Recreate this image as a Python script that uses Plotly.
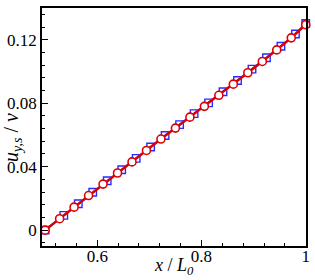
import plotly.graph_objects as go

# Data
x_red = [0.5, 0.5278, 0.5556, 0.5833, 0.6111, 0.6389, 0.6667, 0.6944, 0.7222, 0.75,
         0.7778, 0.8056, 0.8333, 0.8611, 0.8889, 0.9167, 0.9444, 0.9722, 1.0]
y_red = [0.0, 0.0072, 0.0145, 0.0218, 0.0290, 0.0360, 0.0430, 0.0502, 0.0574, 0.0643,
         0.0712, 0.0780, 0.0850, 0.0920, 0.0992, 0.1063, 0.1136, 0.1212, 0.1295]

x_blue = [0.5, 0.5358, 0.5636, 0.5913, 0.6191, 0.6469, 0.6747, 0.7024, 0.7302, 0.758,
          0.7858, 0.8136, 0.8413, 0.8691, 0.8969, 0.9247, 0.9524, 0.9802, 1.0]
y_blue = [0.0, 0.0093, 0.0166, 0.0239, 0.0311, 0.0381, 0.0452, 0.0524, 0.0596, 0.0665,
          0.0734, 0.0802, 0.0872, 0.0943, 0.1015, 0.1086, 0.1159, 0.1236, 0.1302]

x_ticks = [0.6, 0.8, 1.0]
x_ticklabels = ["0.6", "0.8", "1"]
y_ticks = [0, 0.04, 0.08, 0.12]
y_ticklabels = ["0", "0.04", "0.08", "0.12"]

SERIF = "Liberation Serif, Times New Roman, serif"

fig = go.Figure()
fig.add_trace(go.Scatter(
    x=x_blue, y=y_blue, mode="lines+markers", cliponaxis=False,
    line=dict(color="#2a2aff", width=2),
    marker=dict(symbol="square-open", size=7.5, color="#2a2aff", line=dict(width=1.4)),
    showlegend=False))
fig.add_trace(go.Scatter(
    x=x_red, y=y_red, mode="lines+markers", cliponaxis=False,
    line=dict(color="#dd0000", width=2.4),
    marker=dict(symbol="circle", size=8, color="white", line=dict(color="#dd0000", width=1.6)),
    showlegend=False))

fig.update_layout(
    template="none",
    width=315, height=280,
    margin=dict(l=42, r=9, t=8, b=34, autoexpand=False),
    paper_bgcolor="white", plot_bgcolor="white",
    font=dict(family=SERIF, size=17, color="black"),
    annotations=[
        dict(text="<i>x</i> / <i>L<sub>0</sub></i>", xref="paper", yref="paper",
             x=0.5, y=0, yshift=-20, xanchor="center", yanchor="middle", showarrow=False,
             font=dict(family=SERIF, size=18, color="black")),
        dict(text="<i>u<sub>y,s</sub></i> / <i>v</i>", xref="paper", yref="paper",
             x=0, xshift=-30, y=0.5, yshift=-11, xanchor="center", yanchor="middle",
             textangle=-90, showarrow=False,
             font=dict(family=SERIF, size=20, color="black")),
    ],
)
fig.update_xaxes(
    automargin=False,
    range=[0.494, 1.0005], tickvals=x_ticks, ticktext=x_ticklabels,
    ticks="inside", ticklen=6, tickwidth=1.2, tickcolor="black",
    ticklabelstandoff=-6,
    minor=dict(tickvals=[0.52, 0.56, 0.64, 0.68, 0.72, 0.76, 0.84, 0.88, 0.92, 0.96],
               ticks="inside", ticklen=3, tickcolor="black", tickwidth=1),
    showline=True, linecolor="black", linewidth=1.5, mirror=True,
    showgrid=False, zeroline=False, tickfont=dict(family=SERIF, size=17),
)
fig.update_yaxes(
    automargin=False,
    range=[-0.01, 0.14], tickvals=y_ticks, ticktext=y_ticklabels,
    ticks="inside", ticklen=6, tickwidth=1.2, tickcolor="black",
    minor=dict(tickvals=[-0.008, 0.008, 0.016, 0.024, 0.032, 0.048, 0.056, 0.064, 0.072,
                         0.088, 0.096, 0.104, 0.112, 0.128, 0.136],
               ticks="inside", ticklen=3, tickcolor="black", tickwidth=1),
    showline=True, linecolor="black", linewidth=1.5, mirror=True,
    showgrid=False, zeroline=False, tickfont=dict(family=SERIF, size=17),
)
fig.write_html("out.html", config={"displayModeBar": False},
               post_script="document.body.style.margin='0';document.body.style.padding='0';")
